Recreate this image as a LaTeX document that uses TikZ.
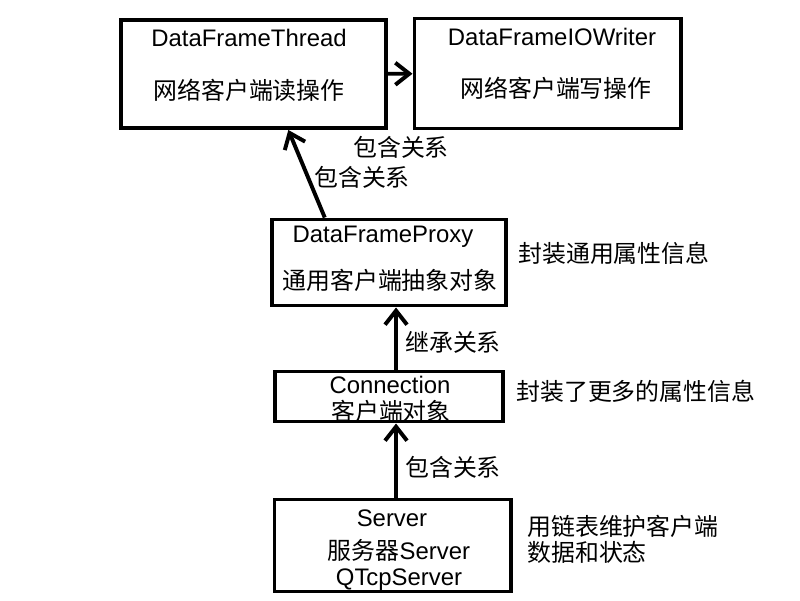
\documentclass[tikz,border=0pt]{standalone}
\usepackage{fontspec}
\setmainfont{Liberation Sans}
\newfontfamily\cjk{Noto Sans CJK SC}
\usetikzlibrary{calc,arrows.meta}

\begin{document}
\begin{tikzpicture}[x=0.025cm, y=-0.025cm,
    box/.style={draw, line width=2.8pt, inner sep=0pt},
    txt/.style={font=\fontsize{17}{18.5}\selectfont, inner sep=0pt},
    arr/.style={line width=2.8pt, -{Straight Barb[length=3.5mm,width=5.5mm]}}]
    \useasboundingbox (0,0) rectangle (800,600);
    % top row: read and write threads
    \node[box, minimum width=6.6cm, minimum height=2.7cm] (thread) at (253.5,74) {};
    \node[txt] (threadname) at (249,38) {DataFrameThread};
    \node[txt] (threadinfo) at (249,90) {\cjk 网络客户端读操作};
    \node[box, minimum width=6.65cm, minimum height=2.75cm] (writer) at (547.5,73.5) {};
    \node[txt] (writername) at (552,37) {DataFrameIOWriter};
    \node[txt] (writerinfo) at (556,88) {\cjk 网络客户端写操作};
    \draw[arr] (thread) -- (writer);
    % proxy
    \node[box, minimum width=5.85cm, minimum height=2.15cm] (proxy) at (389,262.5) {};
    \node[txt] (proxyname) at (383,237) {DataFrameProxy};
    \node[txt] (proxyinfo) at (390,280) {\cjk 通用客户端抽象对象};
    \node[txt, anchor=west] (proxynote) at (518,253) {\cjk 封装通用属性信息};
    \draw[arr] ($(proxy.north west)!0.23!(proxy.north east)$) -- ($(thread.south west)!0.63!(thread.south east)$);
    \node[txt] (contain1) at (401,147) {\cjk 包含关系};
    \node[txt] (contain2) at (362,177) {\cjk 包含关系};
    % connection
    \node[box, minimum width=5.7cm, minimum height=1.25cm] (conn) at (389,396.5) {};
    \node[txt] (connname) at (390,385) {Connection};
    \node[txt] (conninfo) at (391,411) {\cjk 客户端对象};
    \node[txt, anchor=west] (connnote) at (516,391) {\cjk 封装了更多的属性信息};
    \draw[arr] ([xshift=5pt]conn.north) -- ([xshift=5pt]proxy.south);
    \node[txt] (inherit) at (453,342) {\cjk 继承关系};
    % server
    \node[box, minimum width=5.9cm, minimum height=2.3cm] (server) at (392.5,545.5) {};
    \node[txt] (servername) at (392,518) {Server};
    \node[txt, align=center] (serverinfo) at (399,565) {{\cjk 服务器}Server\\QTcpServer};
    \node[txt, align=left, anchor=west] (servernote) at (527,539) {\cjk 用链表维护客户端\\\cjk 数据和状态};
    \draw[arr] ([xshift=5pt]conn.south |- server.north) -- ([xshift=5pt]conn.south);
    \node[txt] (contain3) at (453,467) {\cjk 包含关系};
\end{tikzpicture}
\end{document}
